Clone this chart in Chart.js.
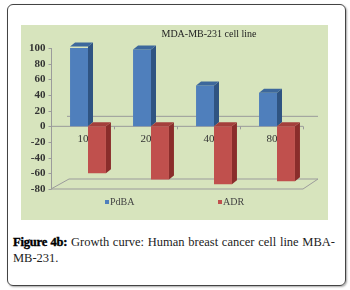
<!DOCTYPE html>
<html>
<head>
<meta charset="utf-8">
<script src="https://cdn.jsdelivr.net/npm/chart.js@4"></script>
<style>
  html, body { margin: 0; padding: 0; background: #fff; }
  body { width: 350px; height: 290px; position: relative; overflow: hidden; }
  #frame {
    position: absolute; left: 7px; top: 4px; width: 337px; height: 280px;
    border: 1px solid #444; border-radius: 6px;
    box-shadow: 1px 1px 2px rgba(0,0,0,0.35);
  }
  #plot { position: absolute; left: 21px; top: 25px; width: 307px; height: 195px; background: #d7e4bd; }
  #caption {
    position: absolute; left: 13px; top: 234px; width: 322px;
    font-family: "Liberation Serif", "Times New Roman", serif; font-size: 12.5px; line-height: 16px; color: #222;
  }
  #caption .l1 { text-align: justify; text-align-last: justify; white-space: nowrap; }
  #caption b { font-family: "Liberation Serif", serif; font-size: 12.5px; font-weight: 900; color: #000; letter-spacing: -0.2px; -webkit-text-stroke: 0.4px #000; }
</style>
</head>
<body>
<div id="frame"></div>
<div id="plot"><canvas id="chart" width="307" height="195"></canvas></div>
<div id="caption">
  <div class="l1"><b>Figure 4b:</b> Growth curve: Human breast cancer cell line MBA-</div>
  <div>MB-231.</div>
</div>
<script>
// values
const concentrations = ["10", "20", "40", "80"];
const pdbaValues = [102, 98, 52, 43];
const adrValues = [-60, -68, -74, -70];
const yTicks = [100, 80, 60, 40, 20, 0, -20, -40, -60, -80];
const chartTitle = "MDA-MB-231 cell line";

const serif = "'Liberation Serif', 'Times New Roman', serif";
const blue = { front: "#4f7fbc", side: "#2f5482", top: "#3d689c" };
const red = { front: "#c0504d", side: "#8a2d2b", top: "#a43f3c" };
const lineColor = "#9b9b9b";
const SHIFT = 5.5;   // front plane sits left of the bars
const DX = 16, DY = 10; // floor depth
const BD = 5, BDY = 4;  // bar depth

const boxPlugin = {
  id: "box3d",
  beforeDatasetsDraw(chart) {
    const ctx = chart.ctx, a = chart.chartArea;
    const y = chart.scales.y;
    const y0 = y.getPixelForValue(0);
    const yMin = y.getPixelForValue(yTicks[yTicks.length - 1]);
    const yTop = y.getPixelForValue(yTicks[0]);
    const fl = a.left - SHIFT, fr = a.right - SHIFT;
    ctx.save();
    ctx.strokeStyle = lineColor;
    ctx.lineWidth = 1;
    ctx.beginPath();
    // floor
    ctx.moveTo(fl, yMin); ctx.lineTo(fr, yMin);
    ctx.lineTo(fr + DX - 1, yMin - DY); ctx.lineTo(fl + DX + 2, yMin - DY); ctx.lineTo(fl, yMin);
    // back wall zero line
    ctx.moveTo(fl + DX, y0 - DY); ctx.lineTo(fr + DX - 1, y0 - DY);
    // front zero line
    ctx.moveTo(fl, y0); ctx.lineTo(fr, y0);
    const cw = (a.right - a.left) / concentrations.length;
    for (let k = 1; k <= concentrations.length; k++) {
      const tx = Math.round(a.left + k * cw - SHIFT) + 0.5;
      ctx.moveTo(tx, y0); ctx.lineTo(tx, y0 + 3);
    }
    // y axis line and ticks
    const ax = Math.round(fl) + 0.5;
    ctx.moveTo(ax, yTop); ctx.lineTo(ax, yMin);
    yTicks.forEach(v => {
      const ty = Math.round(y.getPixelForValue(v)) + 0.5;
      ctx.moveTo(ax - 3, ty); ctx.lineTo(ax, ty);
    });
    ctx.stroke();
    ctx.restore();
  },
  afterDatasetsDraw(chart) {
    const ctx = chart.ctx;
    const styles = [blue, red];
    ctx.save();
    chart.data.datasets.forEach((ds, i) => {
      const meta = chart.getDatasetMeta(i);
      meta.data.forEach(bar => {
        const l = bar.x - bar.width / 2, r = bar.x + bar.width / 2;
        const t = Math.min(bar.y, bar.base), b = Math.max(bar.y, bar.base);
        ctx.fillStyle = styles[i].side;
        ctx.beginPath();
        ctx.moveTo(r, t); ctx.lineTo(r + BD, t - BDY); ctx.lineTo(r + BD, b - BDY); ctx.lineTo(r, b);
        ctx.closePath(); ctx.fill();
        ctx.fillStyle = styles[i].top;
        ctx.beginPath();
        ctx.moveTo(l, t); ctx.lineTo(l + BD, t - BDY); ctx.lineTo(r + BD, t - BDY); ctx.lineTo(r, t);
        ctx.closePath(); ctx.fill();
      });
    });
    ctx.restore();
  },
  afterDraw(chart) {
    const ctx = chart.ctx;
    ctx.save();
    ctx.fillStyle = "#222";
    ctx.font = "10px " + serif;
    ctx.textAlign = "center";
    ctx.textBaseline = "middle";
    ctx.fillText(chartTitle, 188, 9);
    // legend
    ctx.textAlign = "left";
    const items = [[84, blue.front], [197, red.front]];
    chart.data.datasets.forEach((ds, i) => {
      const lx = items[i][0];
      ctx.fillStyle = items[i][1];
      ctx.fillRect(lx, 175, 4, 4);
      ctx.fillStyle = "#444";
      ctx.fillText(ds.label, lx + 5, 177.5);
    });
    ctx.restore();
  }
};

new Chart(document.getElementById("chart"), {
  type: "bar",
  data: {
    labels: concentrations,
    datasets: [
      { label: "PdBA", data: pdbaValues, backgroundColor: blue.front },
      { label: "ADR", data: adrValues, backgroundColor: red.front }
    ]
  },
  options: {
    responsive: false,
    animation: false,
    devicePixelRatio: 1,
    categoryPercentage: 0.57,
    barPercentage: 1.0,
    layout: { padding: { top: 23, bottom: 31, right: 19.5, left: 0 } },
    plugins: { legend: { display: false }, title: { display: false }, tooltip: { enabled: false } },
    scales: {
      x: {
        position: { y: 0 },
        grid: { display: false, drawTicks: false },
        border: { display: false },
        ticks: { color: "#333", font: { family: serif, size: 11 }, padding: 6, labelOffset: -5, maxRotation: 0 }
      },
      y: {
        min: -80, max: 100,
        afterFit(scale) { scale.width = 35.5; },
        grid: { display: false, drawTicks: false },
        border: { display: false },
        ticks: { stepSize: 20, autoSkip: false, color: "#333", font: { family: serif, size: 11, weight: "bold" }, padding: 11 }
      }
    }
  },
  plugins: [boxPlugin]
});
</script>
</body>
</html>
